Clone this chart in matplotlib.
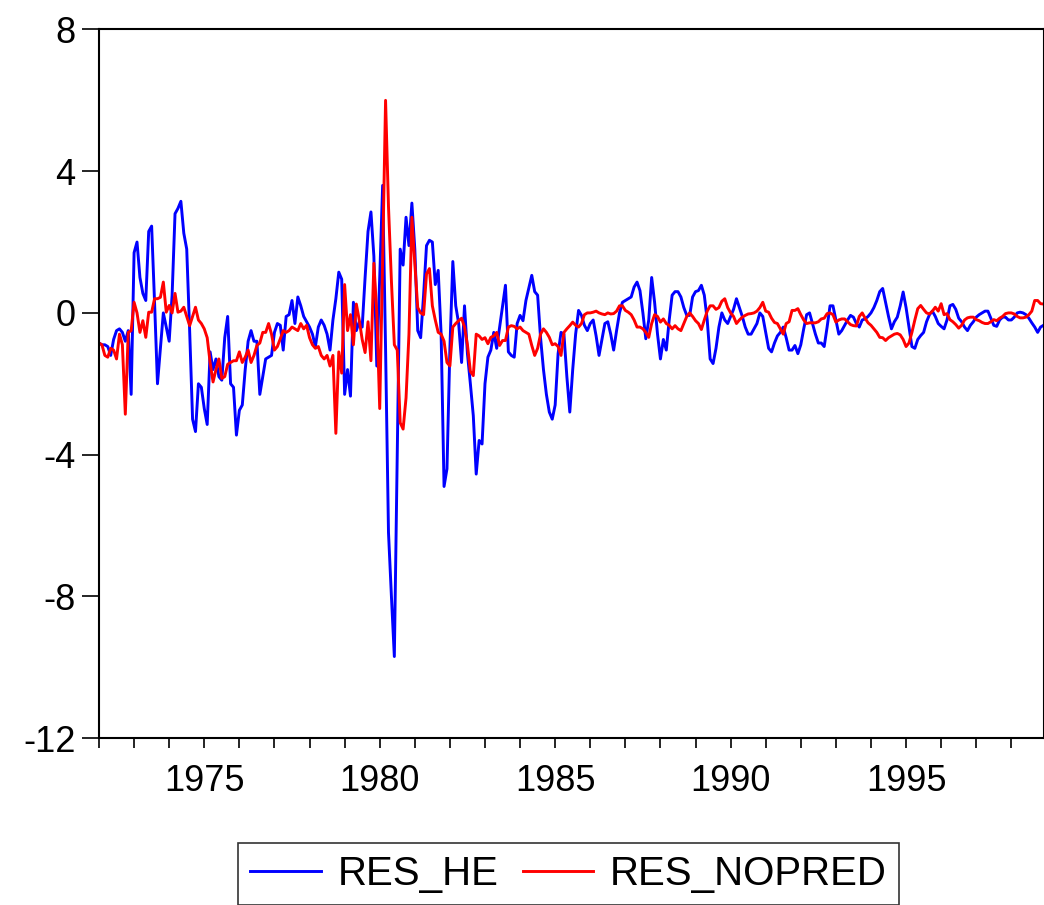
import numpy as np
import matplotlib
matplotlib.use("Agg")
import matplotlib.pyplot as plt
from matplotlib.ticker import FixedLocator, MultipleLocator

START_YEAR = 1972

res_he = [
    -0.85, -0.9, -0.9, -0.95, -1.2, -0.75, -0.5, -0.45, -0.55, -0.8, -0.5, -2.3,
    1.7, 2.0, 1.0, 0.55, 0.35, 2.3, 2.45, 0.3, -2.0, -1.0, 0.0, -0.4,
    -0.8, 0.5, 2.8, 2.95, 3.15, 2.25, 1.8, -0.5, -3.0, -3.35, -2.0, -2.1,
    -2.7, -3.15, -1.1, -1.6, -1.3, -1.8, -1.9, -0.7, -0.1, -2.0, -2.1, -3.45,
    -2.75, -2.6, -1.6, -0.8, -0.5, -0.8, -0.8, -2.3, -1.8, -1.3, -1.25, -1.2,
    -0.55, -0.3, -0.35, -1.05, -0.1, -0.05, 0.35, -0.3, 0.45, 0.2, -0.1, -0.25,
    -0.4, -0.6, -0.95, -0.4, -0.2, -0.35, -0.6, -1.05, -0.2, 0.4, 1.15, 0.95,
    -2.3, -1.6, -2.35, 0.3, -0.5, -0.25, -0.4, 1.0, 2.3, 2.85, 1.6, -1.5,
    1.0, 3.6, -1.0, -6.2, -8.0, -9.7, -4.0, 1.8, 1.35, 2.7, 1.9, 3.1,
    1.8, -0.5, -0.7, 0.5, 1.9, 2.05, 2.0, 0.8, 1.2, -0.6, -4.9, -4.4,
    -1.0, 1.45, 0.2, -0.3, -1.4, 0.2, -1.15, -2.0, -2.9, -4.55, -3.6, -3.7,
    -2.0, -1.25, -1.05, -0.55, -1.0, -0.4, 0.2, 0.78, -1.1, -1.2, -1.25, -0.3,
    -0.07, -0.22, 0.35, 0.7, 1.06, 0.6, 0.5, -0.7, -1.6, -2.3, -2.8, -3.0,
    -2.6, -1.15, -0.55, -0.6, -1.8, -2.8, -1.6, -0.6, 0.07, -0.07, -0.35, -0.5,
    -0.3, -0.2, -0.65, -1.2, -0.75, -0.3, -0.25, -0.6, -1.05, -0.5, 0.0, 0.3,
    0.35, 0.4, 0.45, 0.73, 0.87, 0.63, 0.0, -0.73, -0.2, 1.0, 0.3, -0.6,
    -1.3, -0.75, -1.05, -0.2, 0.5, 0.6, 0.6, 0.45, 0.15, -0.07, -0.07, 0.45,
    0.6, 0.63, 0.78, 0.5, -0.2, -1.3, -1.43, -1.0, -0.4, 0.0, -0.2, -0.3,
    -0.1, 0.1, 0.4, 0.15, -0.1, -0.4, -0.6, -0.6, -0.45, -0.3, 0.0, -0.1,
    -0.55, -1.0, -1.1, -0.85, -0.65, -0.55, -0.4, -0.7, -1.05, -1.05, -0.92, -1.15,
    -0.9, -0.45, -0.05, 0.0, -0.3, -0.6, -0.85, -0.85, -0.95, -0.4, 0.2, 0.2,
    -0.2, -0.6, -0.5, -0.35, -0.2, -0.07, -0.12, -0.3, -0.4, -0.2, -0.17, -0.1,
    0.0, 0.15, 0.35, 0.6, 0.69, 0.3, -0.1, -0.45, -0.25, -0.12, 0.2, 0.59,
    0.15, -0.4, -0.95, -1.0, -0.75, -0.64, -0.55, -0.25, -0.05, 0.05, -0.1, -0.3,
    -0.38, -0.45, -0.2, 0.2, 0.24, 0.1, -0.15, -0.25, -0.4, -0.5, -0.35, -0.25,
    -0.12, -0.05, 0.0, 0.05, 0.05, -0.15, -0.35, -0.38, -0.2, -0.12, -0.12, -0.2,
    -0.2, -0.12, 0.0, 0.02, 0.0, -0.05, -0.15, -0.28, -0.4, -0.55, -0.4, -0.35,
]

res_nopred = [
    -0.85, -0.9, -1.2, -1.25, -1.0, -1.05, -1.3, -0.6, -0.9, -2.86, -0.55, -0.5,
    0.3, 0.0, -0.55, -0.22, -0.69, 0.02, 0.02, 0.4, 0.4, 0.44, 0.87, 0.02,
    0.21, 0.0, 0.55, 0.02, 0.05, 0.16, -0.1, -0.36, -0.1, 0.16, -0.2, -0.3,
    -0.45, -0.7, -1.4, -1.95, -1.6, -1.3, -1.85, -1.8, -1.45, -1.4, -1.35, -1.35,
    -1.1, -1.4, -1.25, -1.05, -1.4, -1.2, -0.92, -0.85, -0.55, -0.55, -0.3, -0.6,
    -1.05, -0.95, -0.73, -0.5, -0.55, -0.5, -0.4, -0.45, -0.5, -0.3, -0.45, -0.35,
    -0.7, -0.9, -1.0, -0.95, -1.2, -1.3, -1.2, -1.5, -1.2, -3.4, -1.1, -1.7,
    0.8, -0.5, -0.05, -0.9, 0.25, -0.2, -0.75, -1.12, -0.25, -1.35, 1.4, 0.0,
    -2.7, 1.5, 6.0, 3.0, 0.9, -0.9, -1.05, -3.1, -3.28, -2.4, -0.6, 2.7,
    1.4, 0.15, 0.0, -0.05, 1.1, 1.25, 0.2, -0.2, -0.55, -0.6, -0.8, -1.4,
    -1.5, -0.4, -0.3, -0.22, -0.15, -0.4, -0.9, -1.65, -1.77, -0.6, -0.65, -0.75,
    -0.7, -0.87, -0.69, -0.65, -0.55, -0.92, -0.78, -0.78, -0.4, -0.36, -0.38, -0.45,
    -0.4, -0.5, -0.55, -0.6, -0.92, -1.2, -1.0, -0.6, -0.45, -0.55, -0.69, -0.9,
    -0.87, -0.95, -1.2, -0.55, -0.45, -0.36, -0.26, -0.35, -0.4, -0.3, -0.05, 0.0,
    0.0, 0.02, 0.05, 0.0, -0.03, -0.05, 0.0, -0.03, -0.02, 0.05, 0.2, 0.2,
    0.07, 0.02, -0.05, -0.2, -0.4, -0.4, -0.45, -0.55, -0.69, -0.3, -0.05, -0.1,
    -0.26, -0.17, -0.3, -0.35, -0.45, -0.36, -0.45, -0.5, -0.3, -0.1, 0.0, -0.1,
    -0.22, -0.3, -0.47, -0.2, 0.05, 0.2, 0.2, 0.1, 0.15, 0.33, 0.4, 0.15,
    0.0, -0.1, -0.3, -0.2, -0.12, -0.07, -0.03, -0.02, 0.0, 0.05, 0.15, 0.3,
    0.05, 0.02, -0.15, -0.27, -0.3, -0.45, -0.6, -0.3, -0.25, 0.07, 0.07, 0.12,
    -0.05, -0.2, -0.3, -0.28, -0.28, -0.28, -0.25, -0.17, -0.15, -0.02, 0.0, -0.05,
    -0.26, -0.2, -0.17, -0.17, -0.25, -0.33, -0.36, -0.37, -0.1, 0.0, -0.15, -0.28,
    -0.35, -0.45, -0.55, -0.69, -0.7, -0.78, -0.7, -0.65, -0.6, -0.58, -0.62, -0.75,
    -0.95, -0.85, -0.55, -0.2, 0.12, 0.21, 0.1, 0.0, -0.03, 0.05, 0.16, 0.05,
    0.26, -0.05, -0.02, -0.19, -0.25, -0.33, -0.43, -0.35, -0.2, -0.14, -0.12, -0.12,
    -0.19, -0.22, -0.27, -0.3, -0.3, -0.25, -0.19, -0.22, -0.15, -0.1, -0.02, 0.0,
    0.0, -0.03, -0.1, -0.14, -0.14, -0.12, -0.05, 0.05, 0.35, 0.35, 0.26, 0.25,
]

y_ticks = [-12, -8, -4, 0, 4, 8]
x_tick_labels = [1975, 1980, 1985, 1990, 1995]
series_names = ["RES_HE", "RES_NOPRED"]

n = len(res_he)
x = START_YEAR + np.arange(n) / 12.0

plt.rcParams["font.family"] = ["Liberation Sans", "DejaVu Sans"]

fig = plt.figure(figsize=(10.44, 9.05), dpi=100)
ax = fig.add_axes([99 / 1044, 1 - 738 / 905, 944.5 / 1044, (738 - 29.5) / 905])

ax.plot(x, res_he, color="#0000ff", lw=2.1, label=series_names[0])
ax.plot(x, res_nopred, color="#ff0000", lw=2.1, label=series_names[1])

ax.set_xlim(START_YEAR, START_YEAR + (n - 1) / 12.0)
ax.set_ylim(-12, 8)

ax.yaxis.set_major_locator(FixedLocator(y_ticks))
ax.set_yticklabels([str(t) for t in y_ticks])
ax.xaxis.set_major_locator(FixedLocator(x_tick_labels))
ax.set_xticklabels([str(t) for t in x_tick_labels])
ax.xaxis.set_minor_locator(MultipleLocator(1))

ax.tick_params(axis="y", which="major", direction="out", length=12, width=1.2,
               labelsize=26, pad=5)
ax.tick_params(axis="x", which="major", direction="out", length=7, width=1.2,
               labelsize=26, pad=12)
ax.tick_params(axis="x", which="minor", direction="out", length=7, width=1.2)

for s in ax.spines.values():
    s.set_linewidth(1.5)
    s.set_color("black")

leg = fig.legend(loc="upper left", bbox_to_anchor=(238 / 1044, 1 - 843 / 905),
                 ncol=2, fontsize=29, frameon=True, fancybox=False,
                 handlelength=1.75, handletextpad=0.42, columnspacing=0.6,
                 borderpad=0.3, borderaxespad=0)
leg.get_frame().set_edgecolor("black")
leg.get_frame().set_linewidth(1.2)

fig.savefig("out.png", dpi=100)
